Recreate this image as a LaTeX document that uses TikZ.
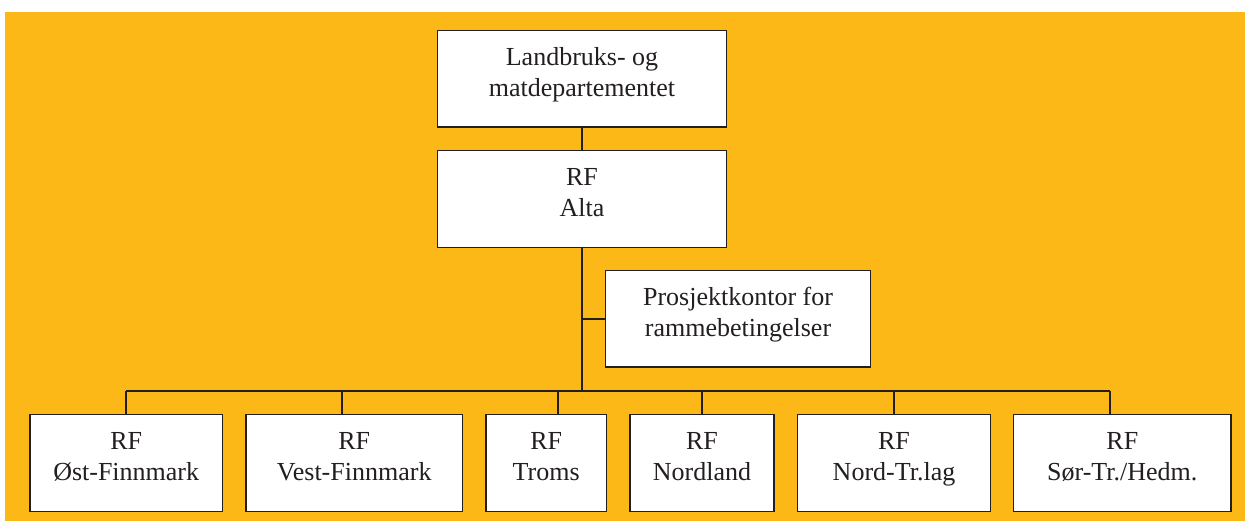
\documentclass[tikz,border=0pt]{standalone}
\usepackage{fontspec}
\setmainfont{Liberation Serif}
\definecolor{bgorange}{HTML}{FBB817}
\definecolor{ink}{HTML}{231F20}
\begin{document}
\begin{tikzpicture}[x=1pt,y=-1pt,
  box/.style={draw=ink, line width=1.4pt, fill=white, inner sep=0pt, align=center,
    font=\fontsize{26}{31}\selectfont, text=ink, text height=36pt, text depth=0pt},
  conn/.style={draw=ink, line width=1.4pt}]
\useasboundingbox (0,0) rectangle (1245,521);
\fill[bgorange] (5,12) rectangle (1245,521);
% upper boxes
\node[box, minimum width=288.6pt, minimum height=96.3pt] (top) at (582,78.85) {Landbruks- og\\matdepartementet};
\node[box, minimum width=288.6pt, minimum height=96.6pt] (alta) at (582,199) {RF\\Alta};
\node[box, minimum width=264.6pt, minimum height=96.3pt] (proj) at (738,318.85) {Prosjektkontor for\\rammebetingelser};
% lower boxes
\node[box, minimum width=192.3pt, minimum height=97pt] (b1) at (126.2,462.8) {RF\\Øst-Finnmark};
\node[box, minimum width=216.3pt, minimum height=97pt] (b2) at (354.2,462.8) {RF\\Vest-Finnmark};
\node[box, minimum width=120.3pt, minimum height=97pt] (b3) at (546.2,462.8) {RF\\Troms};
\node[box, minimum width=144pt, minimum height=97pt] (b4) at (702,462.8) {RF\\Nordland};
\node[box, minimum width=192.6pt, minimum height=97pt] (b5) at (894,462.8) {RF\\Nord-Tr.lag};
\node[box, minimum width=217.3pt, minimum height=97pt] (b6) at (1122.3,462.8) {RF\\Sør-Tr./Hedm.};
% bus coordinates
\coordinate (t1) at (126,391);
\coordinate (t2) at (342,391);
\coordinate (t3) at (558,391);
\coordinate (t4) at (702,391);
\coordinate (t5) at (894,391);
\coordinate (t6) at (1110,391);
% connectors
\draw[conn] (top.south) -- (alta.north);
\draw[conn] (alta.south) -- (alta.south |- t1);
\draw[conn] (proj.west) -- (proj.west -| alta.south);
\draw[conn] (t1) -- (t6);
\draw[conn] (t1) -- (t1 |- b1.north);
\draw[conn] (t2) -- (t2 |- b2.north);
\draw[conn] (t3) -- (t3 |- b3.north);
\draw[conn] (t4) -- (t4 |- b4.north);
\draw[conn] (t5) -- (t5 |- b5.north);
\draw[conn] (t6) -- (t6 |- b6.north);
\end{tikzpicture}
\end{document}
